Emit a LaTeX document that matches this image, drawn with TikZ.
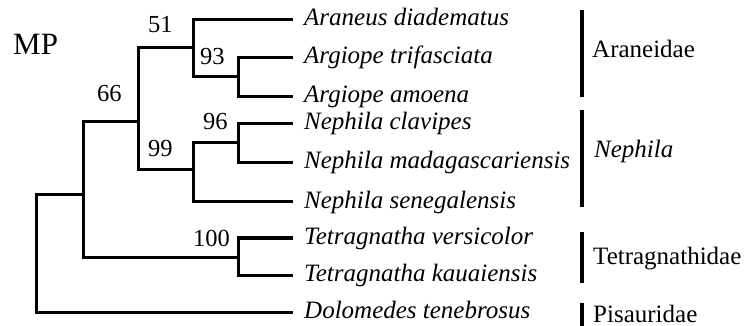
\documentclass[tikz,border=0pt]{standalone}
\usepackage{fontspec}
\setmainfont{Liberation Serif}
\begin{document}
\begin{tikzpicture}[x=1pt,y=-1pt,
  branch/.style={line width=3pt, line join=miter},
  leaf/.style={anchor=west, inner xsep=11pt, inner ysep=0pt, text height=17pt, text depth=5pt, font=\fontsize{25}{25}\selectfont\itshape},
  support/.style={anchor=base west, inner sep=0pt, font=\fontsize{24.5}{24.5}\selectfont},
  famname/.style={anchor=base west, inner sep=0pt, font=\fontsize{25}{25}\selectfont},
  fambar/.style={line width=3.5pt}]
\useasboundingbox (0,0) rectangle (745,326);
% leaves
\node[leaf] (t1) at (293,20) {Araneus diadematus};
\node[leaf] (t2) at (293,58) {Argiope trifasciata};
\node[leaf] (t3) at (293,97) {Argiope amoena};
\node[leaf] (t4) at (293,124) {Nephila clavipes};
\node[leaf] (t5) at (293,163) {Nephila madagascariensis};
\node[leaf] (t6) at (293,202) {Nephila senegalensis};
\node[leaf] (t7) at (293,238) {Tetragnatha versicolor};
\node[leaf] (t8) at (293,275) {Tetragnatha kauaiensis};
\node[leaf] (t9) at (293,312) {Dolomedes tenebrosus};
% internal nodes
\coordinate (root) at (36,253);
\coordinate (nIn) at (83,195);
\coordinate (n66) at (138,122);
\coordinate (n51) at (193,48);
\coordinate (n93) at (238,77);
\coordinate (n99) at (193,170);
\coordinate (n96) at (238,143);
\coordinate (n100) at (238,257);
% branches
\draw[branch] (root) |- (nIn);
\draw[branch] (root) |- (t9.west);
\draw[branch] (nIn) |- (n66);
\draw[branch] (nIn) |- (n100);
\draw[branch] (n66) |- (n51);
\draw[branch] (n66) |- (n99);
\draw[branch] (n51) |- (t1.west);
\draw[branch] (n51) |- (n93);
\draw[branch] (n93) |- (t2.west);
\draw[branch] (n93) |- (t3.west);
\draw[branch] (n99) |- (n96);
\draw[branch] (n99) |- (t6.west);
\draw[branch] (n96) |- (t4.west);
\draw[branch] (n96) |- (t5.west);
\draw[branch] (n100) |- (t7.west);
\draw[branch] (n100) |- (t8.west);
% support values
\node[anchor=base west, inner sep=0pt, font=\fontsize{31}{31}\selectfont] (mp) at (13,55) {MP};
\node[support] (s51) at (148,33) {51};
\node[support] (s93) at (200,65) {93};
\node[support] (s66) at (97,102) {66};
\node[support] (s96) at (203,130) {96};
\node[support] (s99) at (148,157) {99};
\node[support] (s100) at (193,247) {100};
% families
\draw[fambar] (582,10) -- (582,97);
\draw[fambar] (582,110) -- (582,207);
\draw[fambar] (582,232) -- (582,283);
\draw[fambar] (582,303) -- (582,326);
\node[famname] (fAr) at (592,58) {Araneidae};
\node[famname, font=\fontsize{25}{25}\selectfont\itshape] (fNe) at (594,158) {Nephila};
\node[famname] (fTe) at (593,265) {Tetragnathidae};
\node[famname] (fPi) at (593,322) {Pisauridae};
\end{tikzpicture}
\end{document}
